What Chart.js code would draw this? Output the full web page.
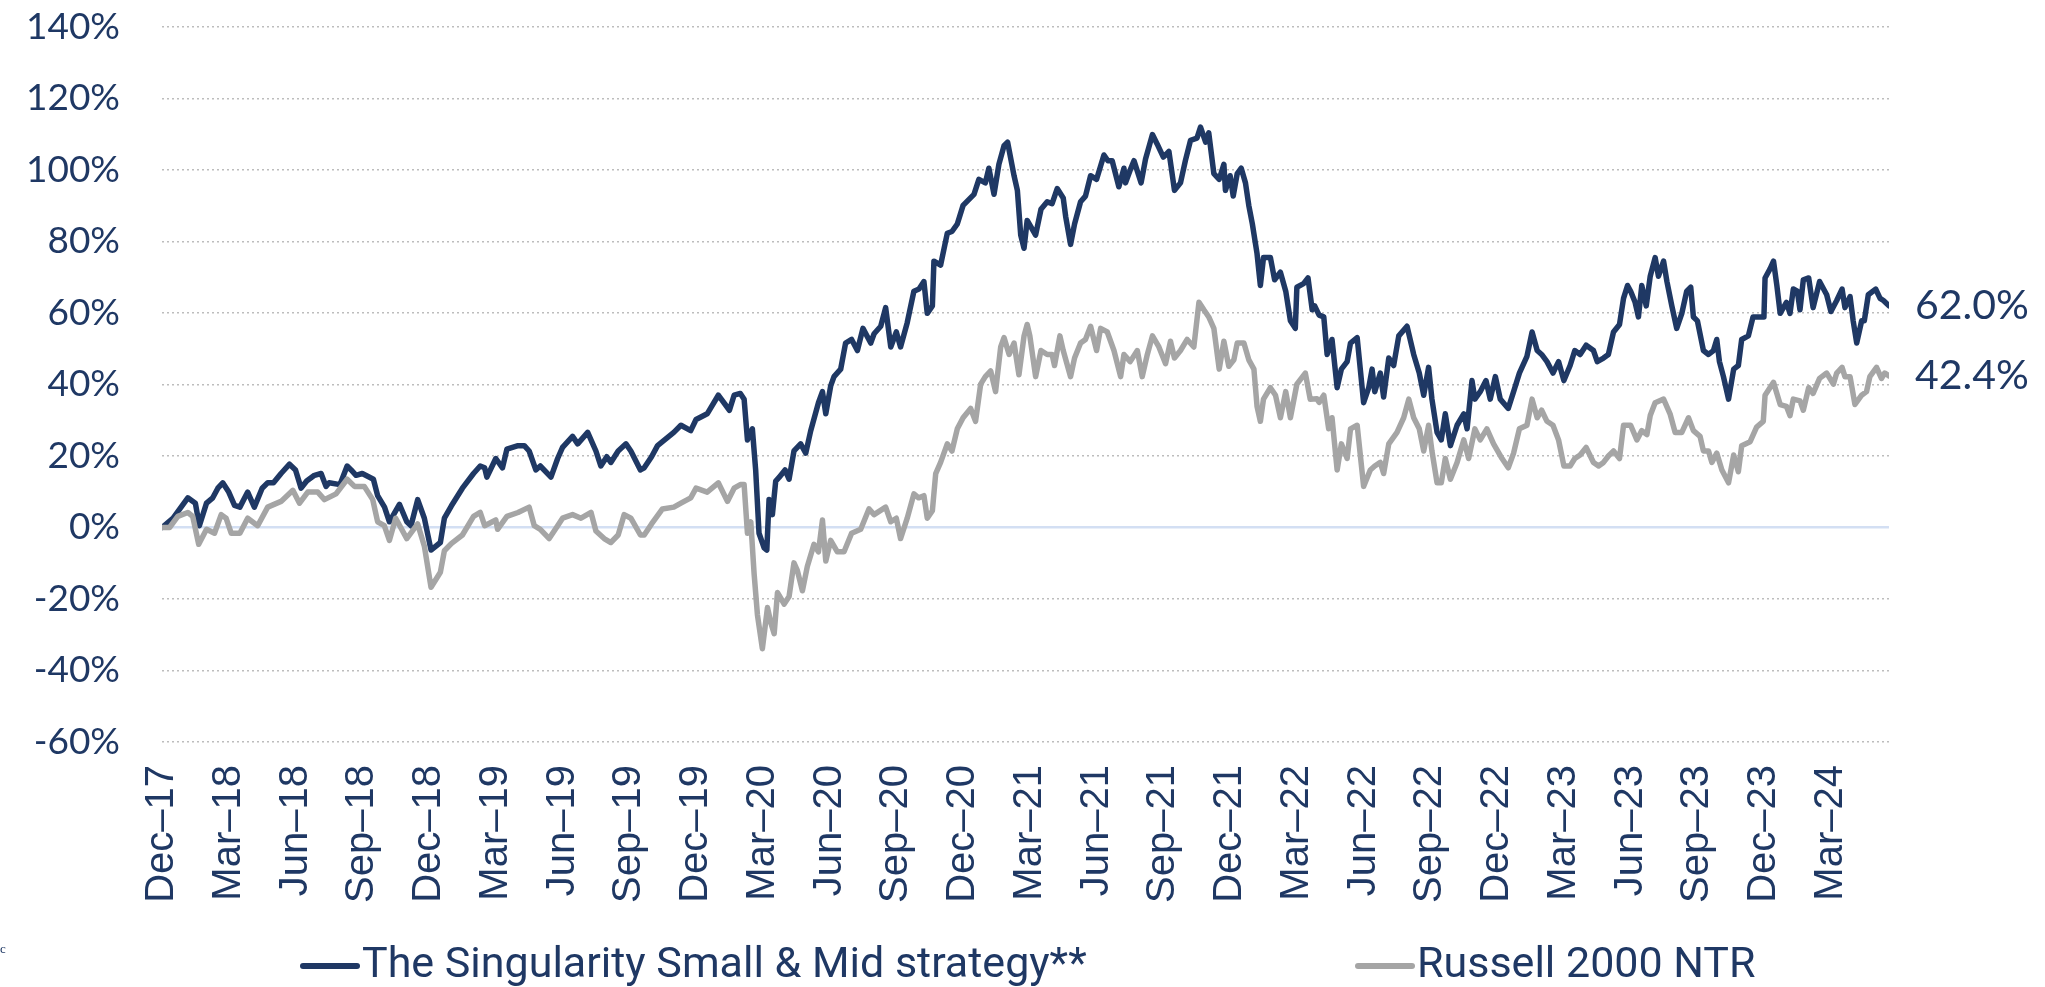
<!DOCTYPE html>
<html>
<head>
<meta charset="utf-8">
<script src="https://cdn.jsdelivr.net/npm/chart.js@4.4.1/dist/chart.umd.min.js"></script>
<style>
    html, body { margin: 0; padding: 0; background: #fff; }
</style>
</head>
<body>
<canvas id="myChart" width="2045" height="987"></canvas>
<script>
// Quarter labels, one every 3 months starting at Dec-17 (month 0)
var quarterLabels = ['Dec–17', 'Mar–18', 'Jun–18', 'Sep–18', 'Dec–18', 'Mar–19', 'Jun–19', 'Sep–19', 'Dec–19',
    'Mar–20', 'Jun–20', 'Sep–20', 'Dec–20', 'Mar–21', 'Jun–21', 'Sep–21', 'Dec–21', 'Mar–22', 'Jun–22',
    'Sep–22', 'Dec–22', 'Mar–23', 'Jun–23', 'Sep–23', 'Dec–23', 'Mar–24'];

// Cumulative performance (%), x = months since end of Dec 2017
var strategyMonths = [0, 0.5, 1.16, 1.5, 1.68, 2, 2.28, 2.51, 2.73, 3, 3.26, 3.5, 3.85, 4, 4.15, 4.5, 4.75, 5.01, 5.35, 5.73,
    6, 6.25, 6.5, 6.85, 7.15, 7.37, 7.51, 8, 8.32, 8.5, 8.72, 9, 9.5, 9.69, 10, 10.22, 10.67, 11, 11.19, 11.49,
    11.79, 12.09, 12.51, 12.69, 13, 13.5, 14, 14.3, 14.5, 14.6, 15, 15.3, 15.5, 16, 16.28, 16.5, 16.8, 17, 17.48, 17.78,
    18, 18.45, 18.68, 19.13, 19.5, 19.72, 19.99, 20.17, 20.5, 20.85, 21.07, 21.5, 21.67, 22, 22.27, 22.49, 23, 23.32, 23.76, 24,
    24.5, 25, 25.5, 25.71, 25.99, 26.16, 26.31, 26.53, 26.68, 26.83, 27.06, 27.18, 27.28, 27.43, 27.58, 27.73, 28, 28.18, 28.4, 28.7,
    28.93, 29.15, 29.5, 29.68, 29.83, 30.05, 30.2, 30.5, 30.72, 30.99, 31.25, 31.5, 31.85, 32, 32.3, 32.52, 32.75, 33, 33.19, 33.49,
    33.79, 34.02, 34.24, 34.39, 34.62, 34.69, 34.99, 35.29, 35.5, 35.74, 36, 36.49, 36.71, 37, 37.16, 37.39, 37.61, 37.84, 38, 38.29,
    38.44, 38.59, 38.74, 38.88, 39.1, 39.26, 39.5, 39.78, 40, 40.23, 40.5, 40.61, 40.83, 41.01, 41.28, 41.5, 41.73, 42, 42.33, 42.51,
    42.7, 43, 43.23, 43.3, 43.51, 43.68, 44, 44.2, 44.51, 44.72, 45, 45.25, 45.5, 45.77, 45.99, 46.22, 46.51, 46.67, 46.9, 47.04,
    47.27, 47.51, 47.72, 47.79, 48, 48.14, 48.32, 48.5, 48.69, 48.84, 49, 49.21, 49.36, 49.5, 49.81, 50, 50.26, 50.5, 50.71, 50.93,
    51, 51.3, 51.5, 51.69, 51.8, 52, 52.21, 52.36, 52.58, 52.81, 53, 53.26, 53.41, 53.71, 54, 54.23, 54.38, 54.5, 54.75, 54.9,
    55.13, 55.35, 55.58, 55.95, 56.25, 56.5, 56.7, 56.92, 57.07, 57.3, 57.49, 57.67, 57.9, 58.2, 58.5, 58.65, 58.87, 59, 59.24, 59.5,
    59.69, 59.92, 60.14, 60.5, 60.74, 61, 61.34, 61.57, 61.8, 62, 62.24, 62.51, 62.76, 63, 63.28, 63.49, 63.73, 64, 64.33, 64.5,
    64.78, 65, 65.23, 65.5, 65.68, 65.86, 66, 66.2, 66.35, 66.5, 66.7, 66.88, 67.1, 67.25, 67.48, 67.63, 67.85, 68.07, 68.3, 68.52,
    68.7, 68.82, 69, 69.27, 69.5, 69.72, 69.87, 69.99, 70.17, 70.4, 70.63, 70.84, 70.99, 71.29, 71.5, 71.74, 71.99, 72.04, 72.27, 72.42,
    72.57, 72.72, 73, 73.16, 73.31, 73.49, 73.61, 73.76, 74, 74.2, 74.49, 74.81, 75, 75.26, 75.5, 75.63, 75.86, 76, 76.16, 76.38,
    76.5, 76.68, 77.01, 77.21, 77.36, 77.61];
var strategyValues = [0, 2.6, 8.3, 6.8, 0.5, 6.8, 8.3, 11, 12.5, 9.9, 6.2, 5.7, 9.9, 7.8, 5.7, 11, 12.5, 12.5, 15.1, 17.7,
    16.1, 11, 13, 14.6, 15.1, 11.5, 12.5, 12, 17.2, 16.1, 14.6, 15.1, 13.5, 8.9, 5.7, 1.6, 6.5, 1.6, 0.5, 7.8,
    2.6, -6.3, -4.2, 2.6, 6, 11, 15.1, 17.2, 16.7, 14.1, 19.3, 16.7, 21.9, 22.9, 22.9, 21.4, 16.1, 17.2, 14.1, 19.3,
    22.4, 25.5, 23.4, 26.6, 21.4, 17.2, 19.8, 18.2, 21.4, 23.4, 21.4, 16.1, 16.7, 19.8, 22.9, 24, 26.6, 28.6, 27.1, 30.2,
    31.8, 37, 32.8, 37, 37.5, 35.9, 24.5, 27.6, 16, -1.6, -5.7, -6.3, 7.8, 3.6, 13, 14, 16.1, 13.5, 21.4, 23.4,
    20.8, 27, 34.9, 38, 31.8, 39.6, 42.2, 44.3, 51.6, 52.6, 49.5, 55.7, 51.6, 54.2, 56.3, 61.5, 50.5, 54.7, 50.5, 57.3,
    66.1, 66.7, 68.8, 59.9, 62, 74.5, 73.4, 82.3, 82.8, 84.9, 90.1, 93.2, 97.4, 96.4, 100.5, 93.2, 101.6, 106.8, 107.8, 98.4,
    94.3, 81.8, 78.1, 85.9, 83.5, 81.8, 89, 91.1, 90.6, 94.8, 92.2, 87, 79.2, 84.9, 91.1, 92.7, 98.4, 97.4, 104.2, 102.6,
    102.6, 95.3, 100.5, 96.4, 100, 102.6, 96.4, 103.1, 109.9, 107.3, 103.6, 105.2, 94.3, 96.4, 102.6, 108.3, 108.9, 112, 107.8, 110.4,
    99, 97.4, 101.6, 94.3, 98.4, 92.7, 99, 100.5, 96.4, 90.1, 84.9, 76.6, 67.7, 75.5, 75.5, 69.3, 71.4, 66.1, 57.8, 55.7,
    67.2, 68.2, 69.8, 60.9, 62, 59.4, 58.9, 48.4, 52.6, 39.1, 44.3, 46.4, 51.6, 53.1, 34.9, 39.1, 44.3, 38, 43.2, 36.5,
    47.4, 45.3, 53.6, 56.3, 48.4, 43.2, 37, 44.8, 35.9, 26.6, 24.5, 31.8, 22.9, 28.6, 31.8, 27.6, 41.1, 35.9, 38, 41.1,
    35.9, 42.2, 35.9, 33.3, 38, 43.2, 47.9, 54.7, 49.5, 48.4, 46.4, 43.2, 46.4, 41.1, 45.3, 49.5, 48.4, 51, 49.5, 46.4,
    47.4, 48.4, 54.7, 56.8, 64.1, 67.7, 66.1, 63, 58.9, 67.7, 62, 70.3, 75.5, 70.3, 74.5, 68.8, 62, 55.7, 59.9, 66.1,
    67.2, 58.9, 57.8, 49.5, 48.4, 49.5, 52.6, 46.4, 42.2, 35.9, 44.3, 45.3, 52.6, 53.6, 58.9, 58.9, 58.9, 69.8, 72.4, 74.5,
    67.7, 59.9, 63, 59.9, 66.7, 66.1, 60.9, 69.3, 69.8, 61.5, 68.8, 65.1, 60.4, 63.5, 66.7, 61.5, 64.6, 57.8, 51.6, 57.8,
    57.8, 65.1, 66.7, 64.1, 63.5, 62.0];

var russellMonths = [0, 0.34, 0.71, 1.16, 1.38, 1.65, 2, 2.36, 2.66, 2.88, 3.11, 3.5, 3.85, 4.3, 4.75, 5.35, 5.88, 6.18, 6.55, 7,
    7.3, 7.82, 8.32, 8.65, 9.09, 9.47, 9.69, 9.99, 10.22, 10.5, 11, 11.49, 11.79, 12.09, 12.51, 12.69, 13, 13.5, 14, 14.3,
    14.5, 15, 15.08, 15.5, 16, 16.5, 16.73, 17, 17.4, 17.78, 18, 18.45, 18.83, 19.28, 19.5, 19.87, 20.17, 20.5, 20.77, 21.07,
    21.5, 21.67, 22, 22.49, 23, 23.32, 23.76, 24, 24.5, 25, 25.41, 25.71, 25.99, 26.16, 26.31, 26.46, 26.61, 26.76, 26.98, 27.21,
    27.36, 27.51, 27.66, 27.96, 28.18, 28.4, 28.55, 28.78, 29, 29.3, 29.5, 29.68, 29.83, 30.05, 30.35, 30.65, 30.99, 31.4, 31.77, 32,
    32.52, 32.75, 33, 33.19, 33.49, 33.79, 34, 34.24, 34.39, 34.62, 34.77, 34.99, 35.29, 35.5, 35.74, 36, 36.34, 36.56, 36.79, 37,
    37.24, 37.46, 37.69, 37.84, 38.07, 38.29, 38.51, 38.74, 38.88, 39, 39.26, 39.5, 39.78, 40, 40.11, 40.35, 40.5, 40.83, 41.01, 41.28,
    41.5, 41.73, 42, 42.18, 42.48, 42.78, 43.08, 43.23, 43.51, 43.83, 44.05, 44.28, 44.51, 44.8, 45.1, 45.32, 45.5, 45.77, 46.07, 46.37,
    46.6, 46.82, 47.04, 47.27, 47.51, 47.72, 47.94, 48.17, 48.32, 48.62, 48.84, 49.07, 49.21, 49.36, 49.5, 49.81, 50.04, 50.26, 50.5, 50.71,
    51, 51.38, 51.6, 51.9, 52, 52.21, 52.43, 52.58, 52.81, 53, 53.26, 53.41, 53.71, 54, 54.3, 54.5, 54.75, 54.9, 55.13, 55.5,
    55.8, 56.03, 56.25, 56.5, 56.7, 56.92, 57.07, 57.3, 57.49, 57.67, 57.9, 58.2, 58.5, 58.72, 59, 59.24, 59.54, 59.84, 60.22, 60.5,
    60.74, 61, 61.34, 61.57, 61.8, 62, 62.24, 62.51, 62.76, 63, 63.28, 63.49, 63.73, 64, 64.33, 64.56, 64.78, 65, 65.23, 65.5,
    65.68, 66, 66.28, 66.5, 66.73, 66.88, 67.1, 67.48, 67.77, 68, 68.3, 68.6, 68.82, 69.12, 69.27, 69.5, 69.65, 69.87, 70.1, 70.4,
    70.63, 70.84, 70.99, 71.37, 71.66, 71.96, 72.04, 72.42, 72.72, 73, 73.16, 73.31, 73.61, 73.76, 74, 74.2, 74.49, 74.81, 75.11, 75.26,
    75.5, 75.63, 75.86, 76.08, 76.38, 76.6, 76.75, 77.05, 77.27, 77.42, 77.61];
var russellValues = [0, 0, 3.1, 4.2, 3.1, -4.7, -0.5, -1.6, 3.6, 2.6, -1.6, -1.6, 2.6, 0.5, 5.7, 7.3, 10.4, 6.8, 9.9, 9.9,
    7.8, 9.4, 13.5, 11.5, 11.5, 7.8, 1.6, 0.5, -3.6, 2.6, -3.1, 1.0, -5.2, -16.7, -12.5, -6.5, -4.5, -2.1, 3.1, 4.2,
    0.5, 2.1, -0.5, 3.1, 4.2, 5.7, 0.5, -0.5, -3.1, 0.5, 2.6, 3.6, 2.6, 4.2, -1.0, -3.1, -4.2, -2.1, 3.6, 2.6,
    -2.1, -2.1, 1.0, 5.2, 5.7, 6.8, 8.3, 11, 9.9, 12.5, 7.3, 11, 12, 12, -1.6, 1.6, -13, -24.5, -33.9, -22.4,
    -26.6, -29.7, -18.2, -21.4, -19.3, -9.9, -12, -17.7, -10.9, -4.7, -6.8, 2.1, -9.4, -3.6, -6.8, -6.8, -1.6, -0.5, 5.2, 3.6,
    5.7, 1.6, 2.6, -3.1, 2.6, 9.4, 8.3, 8.9, 2.6, 4.7, 15.1, 18.2, 23.4, 21.4, 27.6, 30.7, 33.3, 29.7, 40.1, 42.2,
    43.8, 38, 50.5, 53.1, 48.4, 51.6, 42.7, 53.6, 56.8, 53.6, 42.2, 49.5, 48.4, 48.4, 45.3, 53.6, 49.5, 42.2, 47.4, 51.6,
    52.6, 56.3, 49.5, 55.7, 54.7, 49.5, 42.2, 48.4, 46.4, 49.5, 42.2, 48.4, 53.6, 50.5, 45.8, 52.1, 47.4, 49.5, 52.6, 50.5,
    63, 60.9, 58.9, 55.7, 44.3, 52.1, 45.1, 46.9, 51.6, 51.6, 46.9, 44.3, 33.9, 29.7, 35.9, 39.1, 37, 30.7, 38, 30.7,
    40.1, 43.2, 35.9, 36, 35, 37, 27.6, 30.7, 16.1, 23.4, 19.3, 27.6, 28.6, 11.5, 16.1, 17.2, 18.2, 15.1, 23.4, 26.6,
    30.7, 35.9, 30.7, 27.6, 21.4, 28.6, 21.4, 12.5, 12.5, 19.3, 13.5, 18.2, 24.5, 19.3, 27.6, 24.5, 27.6, 23.4, 19.3, 16.7,
    20.8, 27.6, 28.6, 35.9, 30.7, 32.8, 29.7, 28.6, 24.5, 17.2, 17.2, 19.3, 20.3, 22.4, 18.2, 17.2, 18.2, 20, 21.4, 19.3,
    28.6, 28.6, 24.5, 27.1, 26, 31.3, 34.9, 35.9, 31.8, 26.6, 26.6, 30.7, 27.1, 25.5, 21.4, 21.4, 18.2, 20.8, 16.1, 12.5,
    20.3, 15.6, 22.9, 24, 28.1, 29.7, 37, 40.6, 34.4, 33.9, 31.3, 35.9, 35.4, 32.8, 39.1, 37.5, 41.7, 43.2, 40.1, 43.2,
    44.8, 42.2, 42.2, 34.4, 37, 38, 42.2, 44.8, 41.7, 43.2, 42.4];

var NAVY = '#1F3864';
var GREY = '#A5A5A5';

function toPoints(xs, ys) {
    return xs.map(function (x, i) { return { x: x, y: ys[i] }; });
}

// value labels at the right end of each line
var endLabels = {
    id: 'endLabels',
    afterDatasetsDraw: function (chart) {
        var ctx = chart.ctx;
        ctx.save();
        ctx.font = '41px Lato';
        ctx.fillStyle = NAVY;
        ctx.textAlign = 'left';
        ctx.textBaseline = 'middle';
        chart.data.datasets.forEach(function (ds, i) {
            var pts = chart.getDatasetMeta(i).data;
            var last = pts[pts.length - 1];
            var v = ds.data[ds.data.length - 1].y;
            ctx.fillText(v.toFixed(1) + '%', chart.chartArea.right + 26, last.y);
        });
        ctx.restore();
    }
};

// legend drawn as in the original: short line + text, two items on one row
var lineLegend = {
    id: 'lineLegend',
    afterDraw: function (chart) {
        var ctx = chart.ctx;
        var itemX = [303, 1358];
        var y = chart.height - 21;
        ctx.save();
        ctx.font = '43px Roboto';
        ctx.textBaseline = 'middle';
        chart.data.datasets.forEach(function (ds, i) {
            ctx.strokeStyle = ds.borderColor;
            ctx.lineWidth = 6;
            ctx.lineCap = 'round';
            ctx.beginPath();
            ctx.moveTo(itemX[i], y);
            ctx.lineTo(itemX[i] + 54, y);
            ctx.stroke();
            ctx.fillStyle = NAVY;
            ctx.fillText(ds.label, itemX[i] + 59, y);
        });
        ctx.font = '13px "Liberation Serif"';
        ctx.fillText('c', 0, 950);
        ctx.restore();
    }
};

var ctx = document.getElementById('myChart');
var myChart = new Chart(ctx, {
    type: 'line',
    data: {
        datasets: [{
            label: 'The Singularity Small & Mid strategy**',
            data: toPoints(strategyMonths, strategyValues),
            borderColor: NAVY,
            backgroundColor: NAVY,
            borderWidth: 5.5,
            order: 2
        }, {
            label: 'Russell 2000 NTR',
            data: toPoints(russellMonths, russellValues),
            borderColor: GREY,
            backgroundColor: GREY,
            borderWidth: 5.5,
            order: 1
        }]
    },
    options: {
        responsive: false,
        animation: false,
        events: [],
        elements: {
            point: { radius: 0 },
            line: { tension: 0, borderJoinStyle: 'round', borderCapStyle: 'round' }
        },
        layout: { padding: { top: 27, right: 156, bottom: 0, left: 0 } },
        scales: {
            x: {
                type: 'linear',
                min: 0,
                max: strategyMonths[strategyMonths.length - 1],
                afterBuildTicks: function (axis) {
                    axis.ticks = quarterLabels.map(function (l, i) { return { value: i * 3 }; });
                },
                afterFit: function (axis) { axis.height = 245; },
                grid: { display: false, drawTicks: false },
                border: { display: false },
                ticks: {
                    autoSkip: false,
                    minRotation: 90,
                    maxRotation: 90,
                    padding: 23,
                    color: NAVY,
                    font: { family: 'Liberation Sans', size: 40 },
                    callback: function (value) { return quarterLabels[Math.round(value / 3)]; }
                }
            },
            y: {
                min: -60,
                max: 140,
                afterFit: function (axis) {
                    axis.width = 162;
                    axis.paddingTop = 0;
                    axis.paddingBottom = 0;
                },
                grid: {
                    drawTicks: false,
                    color: function (c) { return c.tick && c.tick.value === 0 ? '#D3DFF3' : '#BDBDBD'; },
                    lineWidth: function (c) { return c.tick && c.tick.value === 0 ? 2.5 : 1.5; }
                },
                border: {
                    display: false,
                    dash: function (c) { return c.tick && c.tick.value === 0 ? [] : [2, 3]; }
                },
                ticks: {
                    stepSize: 20,
                    padding: 42,
                    color: NAVY,
                    font: { family: 'Lato', size: 37 },
                    callback: function (v) { return v + '%'; }
                }
            }
        },
        plugins: {
            legend: { display: false },
            tooltip: { enabled: false }
        }
    },
    plugins: [endLabels, lineLegend]
});
</script>
</body>
</html>
